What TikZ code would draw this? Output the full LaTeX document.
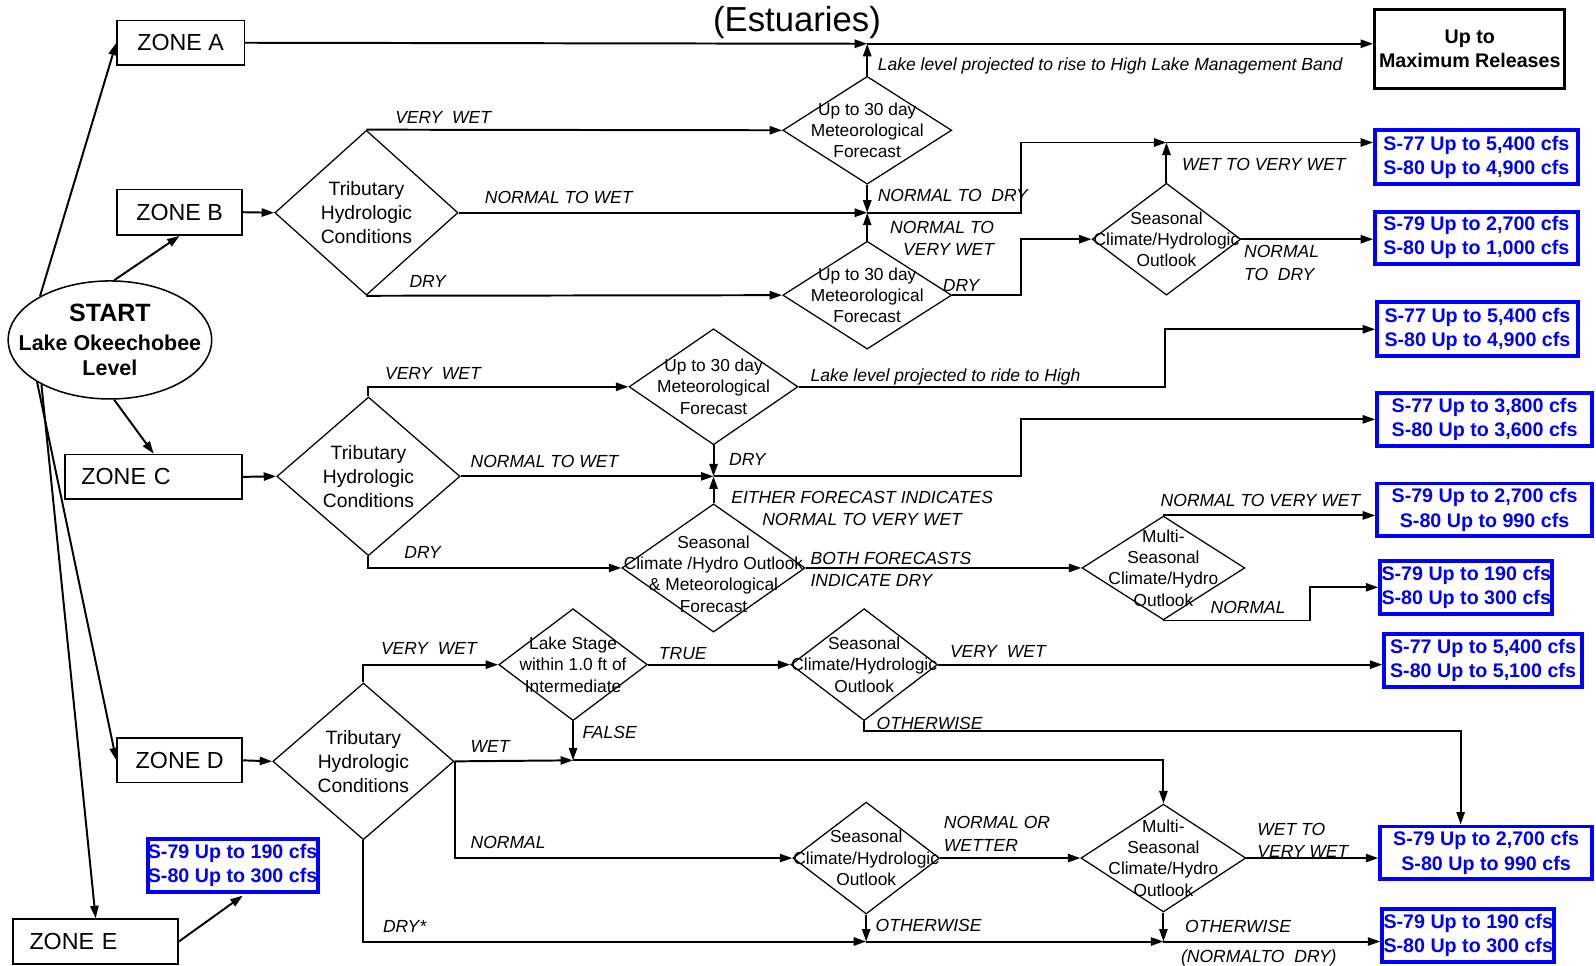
\documentclass[tikz,border=0pt]{standalone}
\usepackage{fontspec}
\setmainfont{Liberation Sans}
\usetikzlibrary{shapes.geometric,arrows.meta}
\begin{document}
\begin{tikzpicture}[x=0.02cm,y=-0.02cm,
  zone/.style={draw, line width=0.85pt, font=\fontsize{13}{15}\selectfont, inner sep=0pt, minimum height=0.88cm},
  bbox/.style={draw=blue, line width=2.2pt, text=blue, font=\fontsize{11}{13.6}\selectfont\bfseries, align=center, inner sep=0pt, minimum height=1.04cm},
  dia/.style={diamond, draw, line width=0.7pt, inner sep=0pt},
  dt/.style={font=\fontsize{9.7}{11.9}\selectfont, align=center, inner sep=0pt},
  tt/.style={font=\fontsize{10.8}{13.3}\selectfont, align=center, inner sep=0pt},
  lab/.style={font=\fontsize{9.8}{12.5}\selectfont\itshape, inner sep=0pt, anchor=base west},
  mlab/.style={font=\fontsize{9.8}{12.5}\selectfont\itshape, inner sep=0pt},
  arr/.style={line width=1.1pt, -{Triangle[length=7pt,width=4.6pt]}},
]
\useasboundingbox (0,0) rectangle (1568,949);

% title
\node[font=\fontsize{19.4}{22}\selectfont, inner sep=0pt] (title) at (783,22) {(Estuaries)};

% start
\node[ellipse, draw, line width=0.85pt, minimum width=4cm, minimum height=2.32cm, inner sep=0pt,
  label={[align=center, inner sep=0pt, font=\fontsize{12}{14.2}\selectfont\bfseries]center:{\fontsize{14}{16}\selectfont START}\\[2pt]Lake Okeechobee\\Level}] (st) at (108,334) {};

% zones
\node[zone, minimum width=2.5cm] (zA) at (177.5,42) {ZONE A};
\node[zone, minimum width=2.46cm, minimum height=0.9cm] (zB) at (176.5,208.5) {ZONE B};
\node[zone, text width=2.84cm, inner xsep=0.32cm, align=left] (zC) at (151,468.5) {ZONE C};
\node[zone, minimum width=2.46cm] (zD) at (176.5,747) {ZONE D};
\node[zone, text width=2.6cm, inner xsep=0.32cm, align=left] (zE) at (94,925) {ZONE E};

% max box
\node[draw, line width=1.7pt, minimum width=3.74cm, minimum height=1.54cm, align=center, inner sep=0pt,
  font=\fontsize{11}{13.6}\selectfont\bfseries] (mx) at (1444,48) {Up to\\Maximum Releases};

% blue boxes
\node[bbox, minimum width=3.98cm, minimum height=1.06cm] (bb1) at (1450.5,154.5) {S-77 Up to 5,400 cfs\\S-80 Up to 4,900 cfs};
\node[bbox, minimum width=3.98cm, minimum height=1.02cm] (bb2) at (1450.5,233.5) {S-79 Up to 2,700 cfs\\S-80 Up to 1,000 cfs};
\node[bbox, minimum width=3.94cm, minimum height=1.06cm] (bb3) at (1451.5,323.5) {S-77 Up to 5,400 cfs\\S-80 Up to 4,900 cfs};
\node[bbox, minimum width=4.22cm] (bb4) at (1458.5,412) {S-77 Up to 3,800 cfs\\S-80 Up to 3,600 cfs};
\node[bbox, minimum width=4.22cm] (bb5) at (1458.5,501) {S-79 Up to 2,700 cfs\\S-80 Up to 990 cfs};
\node[bbox, minimum width=3.38cm] (bb6) at (1440.5,577) {S-79 Up to 190 cfs\\S-80 Up to 300 cfs};
\node[bbox, minimum width=3.88cm] (bb7) at (1457,649) {S-77 Up to 5,400 cfs\\S-80 Up to 5,100 cfs};
\node[bbox, minimum width=4.16cm] (bb8) at (1460,838) {S-79 Up to 2,700 cfs\\S-80 Up to 990 cfs};
\node[bbox, minimum width=3.38cm] (bb9) at (1442.5,919) {S-79 Up to 190 cfs\\S-80 Up to 300 cfs};
\node[bbox, minimum width=3.34cm] (bbE) at (228.5,850) {S-79 Up to 190 cfs\\S-80 Up to 300 cfs};

% diamonds zone B
\node[dia, minimum width=3.6cm, minimum height=3.24cm, label={[tt]center:Tributary\\Hydrologic\\Conditions}] (tB) at (360,209) {};
\node[dia, minimum width=3.32cm, minimum height=2.12cm, label={[dt]center:Up to 30 day\\Meteorological\\Forecast}] (fB1) at (852,128) {};
\node[dia, minimum width=3.32cm, minimum height=2.12cm, label={[dt]center:Up to 30 day\\Meteorological\\Forecast}] (fB2) at (852,290) {};
\node[dia, minimum width=2.92cm, minimum height=2.2cm, label={[dt]center:Seasonal\\Climate/Hydrologic\\Outlook}] (sB) at (1146,235) {};
% diamonds zone C
\node[dia, minimum width=3.6cm, minimum height=3.12cm, label={[tt]center:Tributary\\Hydrologic\\Conditions}] (tC) at (362,468) {};
\node[dia, minimum width=3.32cm, minimum height=2.28cm, label={[dt]center:Up to 30 day\\Meteorological\\Forecast}] (fC) at (701,380) {};
\node[dia, minimum width=3.6cm, minimum height=2.52cm, label={[dt,yshift=-0.12cm]center:Seasonal\\Climate /Hydro Outlook\\\& Meteorological\\Forecast}] (sC) at (701,558) {};
\node[dia, minimum width=3.2cm, minimum height=2.04cm, label={[dt]center:Multi-\\Seasonal\\Climate/Hydro\\Outlook}] (mC) at (1143,558) {};
% diamonds zone D
\node[dia, minimum width=3.56cm, minimum height=3.08cm, label={[tt]center:Tributary\\Hydrologic\\Conditions}] (tD) at (357,748) {};
\node[dia, minimum width=2.92cm, minimum height=2.2cm, label={[dt]center:Lake Stage\\within 1.0 ft of\\Intermediate}] (lsD) at (563,653) {};
\node[dia, minimum width=2.88cm, minimum height=2.2cm, label={[dt]center:Seasonal\\Climate/Hydrologic\\Outlook}] (sD1) at (849,653) {};
\node[dia, minimum width=2.88cm, minimum height=2.2cm, label={[dt]center:Seasonal\\Climate/Hydrologic\\Outlook}] (sD2) at (851,843) {};
\node[dia, minimum width=3.24cm, minimum height=2.12cm, label={[dt]center:Multi-\\Seasonal\\Climate/Hydro\\Outlook}] (mD) at (1143,843) {};

% junctions
\coordinate (jA) at (852,43);
\coordinate (jB) at (852,209);
\coordinate (jB2) at (1146,140);
\coordinate (xB) at (1003,0);
\coordinate (xC) at (1145,0);
\coordinate (jC) at (701,468);
\coordinate (xN) at (1287,0);
\coordinate (jD1) at (563,747);
\coordinate (xO) at (1435,718);
\coordinate (jD2) at (851,925);
\coordinate (jD3) at (1143,925);

% start connectors
\draw[arr] (st.148) -- (zA.west);
\draw[arr] (st.86) -- (zB.south);
\draw[arr] (st.-86) -- (zC.north);
\draw[arr] (st.210) -- (zD.west);
\draw[arr] (st.213) -- (zE.north);

% zone A
\draw[arr] (zA.east) -- (jA);
\draw[arr] (jA) -- (jA -| mx.west);
% zone B
\draw[arr] (zB.east) -- (tB.west);
\draw[arr] (tB.north) -- (fB1.west);
\draw[arr] (tB.east) -- (jB);
\draw[arr] (tB.south) -- (fB2.west);
\draw[arr] (fB1.north) -- (jA);
\draw[arr] (fB1.south) -- (jB);
\draw[arr] (fB2.north) -- (jB);
\draw[arr] (jB) -- (jB -| xB) |- (jB2);
\draw[arr] (jB2) -- (jB2 -| bb1.west);
\draw[arr] (sB.north) -- (jB2);
\draw[arr] (fB2.east) -- (fB2.east -| xB) |- (sB.west);
\draw[arr] (sB.east) -- (sB.east -| bb2.west);
% zone C
\draw[arr] (zC.east) -- (tC.west);
\draw[arr] (tC.north) |- (fC.west);
\draw[arr] (tC.east) -- (jC);
\draw[arr] (tC.south) |- (sC.west);
\draw[arr] (fC.east) -- (fC.east -| xC) |- (bb3.west);
\draw[arr] (fC.south) -- (jC);
\draw[arr] (sC.north) -- (jC);
\draw[arr] (jC) -- (jC -| xB) |- (bb4.west);
\draw[arr] (sC.east) -- (mC.west);
\draw[arr] (mC.north) -- (mC.north -| bb5.west);
\draw[arr] (mC.south) -- (mC.south -| xN) |- (bb6.west);
% zone D
\draw[arr] (zD.east) -- (tD.west);
\draw[arr] (tD.north) |- (lsD.west);
\draw[arr] (lsD.east) -- (sD1.west);
\draw[arr] (lsD.south) -- (jD1);
\draw[arr] (tD.east) -- (jD1);
\draw[arr] (jD1) -| (mD.north);
\draw[arr] (sD1.east) -- (sD1.east -| bb7.west);
\draw[arr] (sD1.south) |- (xO) -- (xO |- bb8.north);
\draw[arr] (tD.east) |- (sD2.west);
\draw[arr] (sD2.east) -- (mD.west);
\draw[arr] (mD.east) -- (mD.east -| bb8.west);
\draw[arr] (sD2.south) -- (jD2);
\draw[arr] (tD.south) |- (jD2);
\draw[arr] (jD2) -- (jD3);
\draw[arr] (mD.south) -- (jD3);
\draw[arr] (jD3) -- (jD3 -| bb9.west);
% zone E
\draw[arr] (zE.east) -- ([xshift=0.2cm,yshift=-0.04cm]bbE.south);

% labels zone A/B
\node[lab] (l1) at (862,69) {Lake level projected to rise to High Lake Management Band};
\node[lab] (l2) at (388,121) {VERY\ \ WET};
\node[lab] (l3) at (476,200) {NORMAL TO WET};
\node[lab] (l4) at (402,282) {DRY};
\node[lab] (l5) at (862,198) {NORMAL TO\ \ DRY};
\node[mlab, anchor=north east, align=right] (l6) at (977,217) {NORMAL TO\\VERY WET};
\node[lab] (l7) at (926,286) {DRY};
\node[lab] (l8) at (1161,168) {WET TO VERY WET};
\node[mlab, anchor=north west, align=left] (l9) at (1222,241) {NORMAL\\TO\ \ DRY};
% labels zone C
\node[lab] (l10) at (378,373) {VERY\ \ WET};
\node[lab] (l11) at (462,459) {NORMAL TO WET};
\node[lab] (l12) at (397,549) {DRY};
\node[lab] (l13) at (796,375) {Lake level projected to ride to High};
\node[lab] (l14) at (716,457) {DRY};
\node[mlab, anchor=north, align=center] (l15) at (847,482) {EITHER FORECAST INDICATES\\NORMAL TO VERY WET};
\node[mlab, anchor=north west, align=left] (l16) at (796,542) {BOTH FORECASTS\\INDICATE DRY};
\node[lab] (l17) at (1140,498) {NORMAL TO VERY WET};
\node[lab] (l18) at (1189,603) {NORMAL};
% labels zone D
\node[lab] (l19) at (374,643) {VERY\ \ WET};
\node[lab] (l20) at (647,648) {TRUE};
\node[lab] (l21) at (572,726) {FALSE};
\node[lab] (l22) at (462,739) {WET};
\node[lab] (l23) at (933,646) {VERY\ \ WET};
\node[lab] (l24) at (861,717) {OTHERWISE};
\node[lab] (l25) at (462,834) {NORMAL};
\node[mlab, anchor=north west, align=left] (l26) at (927,802) {NORMAL OR\\WETTER};
\node[mlab, anchor=north west, align=left] (l27) at (1235,808) {WET TO\\VERY WET};
\node[lab] (l28) at (860,915) {OTHERWISE};
\node[lab] (l29) at (376,916) {DRY*};
\node[lab] (l30) at (1164,916) {OTHERWISE};
\node[lab] (l31) at (1160,946) {(NORMALTO\ \ DRY)};
\end{tikzpicture}
\end{document}
